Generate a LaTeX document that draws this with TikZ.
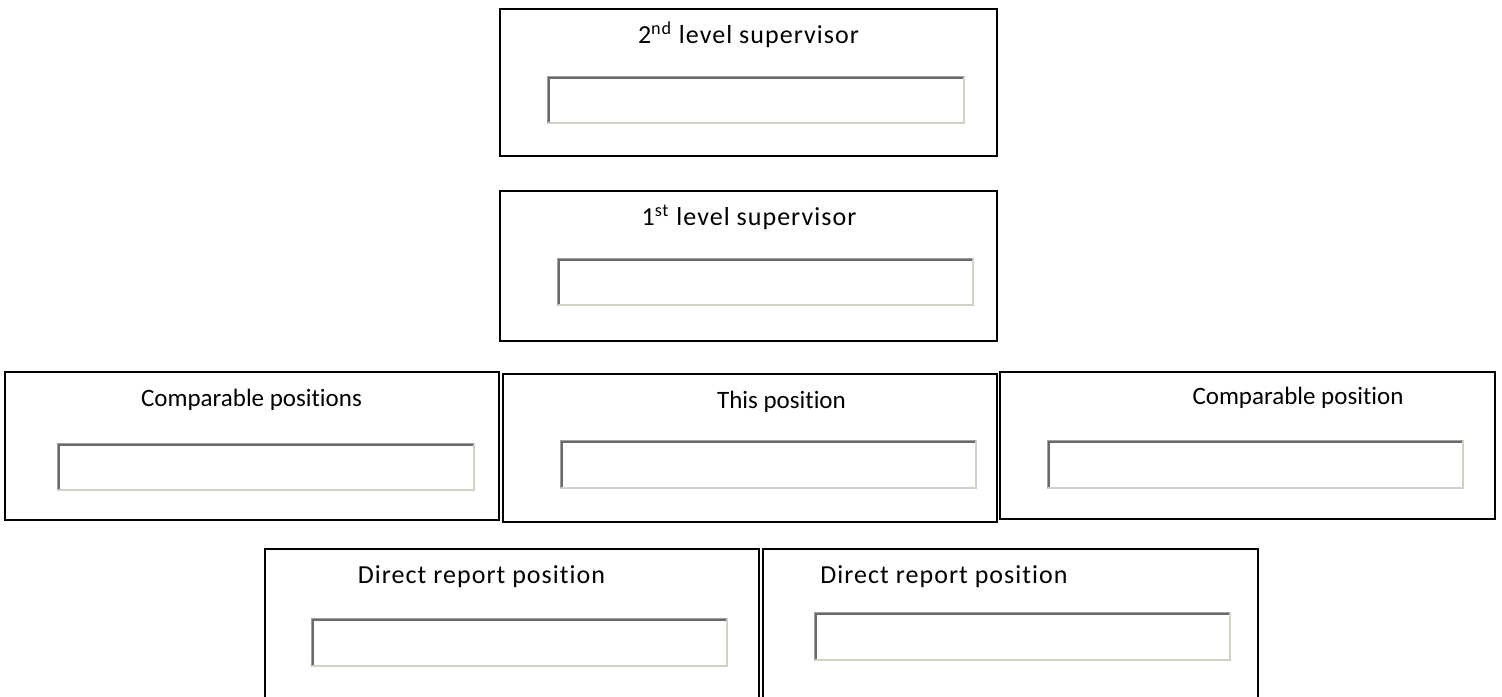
\documentclass[tikz,border=0pt]{standalone}
\usepackage{fontspec}
\setmainfont[Ligatures=NoCommon]{Carlito}
\newfontfamily\widefont[Ligatures=NoCommon, LetterSpace=4]{Carlito}
\definecolor{fielddark}{HTML}{696969}
\definecolor{fieldgrey}{HTML}{A0A0A0}
\definecolor{fieldlight}{HTML}{D4D0C8}

\newcommand\field[4]{%
	\fill[white] (#1,#2) rectangle (#3,#4);
	\draw[fieldlight, line width=0.75pt] (#1,#4) -| (#3,#2);
	\draw[fieldgrey, line width=0.5pt] (#1,#4) |- (#3,#2);
	\draw[fielddark, line width=1pt] (#1+1.5,#4-1) |- (#3-1,#2+1.5);
}

\begin{document}
\begin{tikzpicture}[x=0.5pt, y=-0.5pt, panel/.style={draw=black, line width=1.2pt}, label/.style={anchor=base, inner sep=0pt, font=\widefont\fontsize{13pt}{15pt}\selectfont}, label3/.style={label, font=\rmfamily\fontsize{12.5pt}{15pt}\selectfont}]
	\useasboundingbox (0,0) rectangle (1502,696);
	\clip (0,0) rectangle (1502,696);
	\draw[panel] (500,9) rectangle (997,156);
	\node[label] (sup2) at (748.5,43) {2\textsuperscript{nd} level supervisor};
	\field{547}{76}{964}{123}
	\draw[panel] (500,191) rectangle (997,341);
	\node[label] (sup1) at (749,225) {1\textsuperscript{st} level supervisor};
	\field{557}{258}{973}{305}
	\draw[panel] (5,372) rectangle (499,520);
	\node[label3] (compa) at (251.5,406) {Comparable positions};
	\field{57}{443}{474}{490}
	\draw[panel] (503,374) rectangle (997,522);
	\node[label3] (this) at (781.5,408) {This position};
	\field{560}{440}{976}{488}
	\draw[panel] (1000,372) rectangle (1495,519);
	\node[label3] (compb) at (1298,404) {Comparable position};
	\field{1047}{440}{1463}{488}
	\draw[panel] (265,549) rectangle (759,710);
	\node[label] (repa) at (481.5,583) {Direct report position};
	\field{311}{618}{727}{666}
	\draw[panel] (763,549) rectangle (1258,710);
	\node[label] (repb) at (944,583) {Direct report position};
	\field{814}{612}{1230}{660}
\end{tikzpicture}
\end{document}
